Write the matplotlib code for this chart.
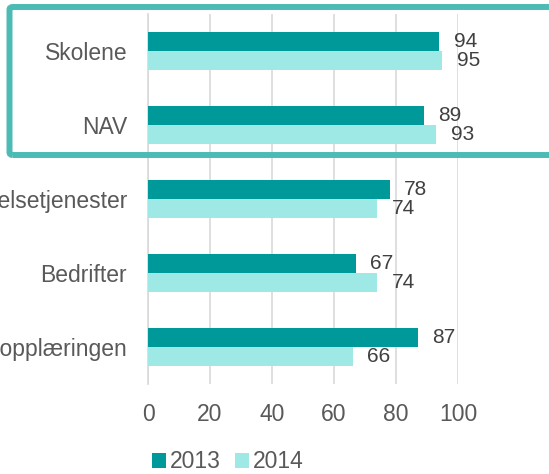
import matplotlib.pyplot as plt
import numpy as np
from matplotlib.patches import FancyBboxPatch

plt.rcParams['font.family'] = ['Liberation Sans', 'DejaVu Sans']

# data
categories = ['Skolene', 'NAV', 'Helsetjenester', 'Bedrifter', 'Fagopplæringen']
years = ['2013', '2014']
values_2013 = [94, 89, 78, 67, 87]
values_2014 = [95, 93, 74, 74, 66]

c2013 = '#009999'
c2014 = '#9EE8E6'
text_grey = '#595959'

fig = plt.figure(figsize=(5.49, 4.74), dpi=100)
ax = fig.add_axes([0.2696, 0.19, 0.8342 - 0.2696, 0.9705 - 0.19])

y = np.arange(len(categories))
h = 0.262
b1 = ax.barh(y - h / 2, values_2013, height=h, color=c2013, label=years[0], zorder=3)
b2 = ax.barh(y + h / 2, values_2014, height=h, color=c2014, label=years[1], zorder=3)

for bars in (b1, b2):
    for rect in bars:
        w = rect.get_width()
        ax.annotate(f'{w:g}', (w, rect.get_y() + rect.get_height() / 2),
                    xytext=(10.5, 0), textcoords='offset points',
                    ha='left', va='center', fontsize=15, color='#404040')

ax.set_xlim(0, 100)
ax.set_ylim(len(categories) - 0.5, -0.5)
ax.set_xticks([0, 20, 40, 60, 80, 100])
ax.set_yticks(y)
ax.set_yticklabels(categories)
ax.tick_params(axis='y', length=0, pad=15, labelsize=16.5, labelcolor=text_grey)
ax.tick_params(axis='x', length=0, pad=14, labelsize=16.5, labelcolor=text_grey)
ax.grid(axis='x', color='#D9D9D9', linewidth=1.2, zorder=0)
for s in ['top', 'right', 'bottom']:
    ax.spines[s].set_visible(False)
ax.spines['left'].set_color('#D9D9D9')
ax.spines['left'].set_linewidth(1.2)

leg = fig.legend(handles=[b1, b2], labels=years, loc='center',
                 bbox_to_anchor=(228 / 549, 1 - 462 / 474), ncol=2, frameon=False,
                 fontsize=16.5, handlelength=0.6, handleheight=0.6,
                 handletextpad=0.2, columnspacing=0.6, labelcolor=text_grey)

# highlight box around the top two categories
box = FancyBboxPatch((9.5 / 549, 1 - 155 / 474), 1.0, (155 - 7) / 474,
                     boxstyle='round,pad=0,rounding_size=0.006',
                     transform=fig.transFigure, fill=False,
                     edgecolor='#4DBBB5', linewidth=4.3, zorder=10, clip_on=False)
fig.patches.append(box)

fig.savefig('out.png', dpi=100)
